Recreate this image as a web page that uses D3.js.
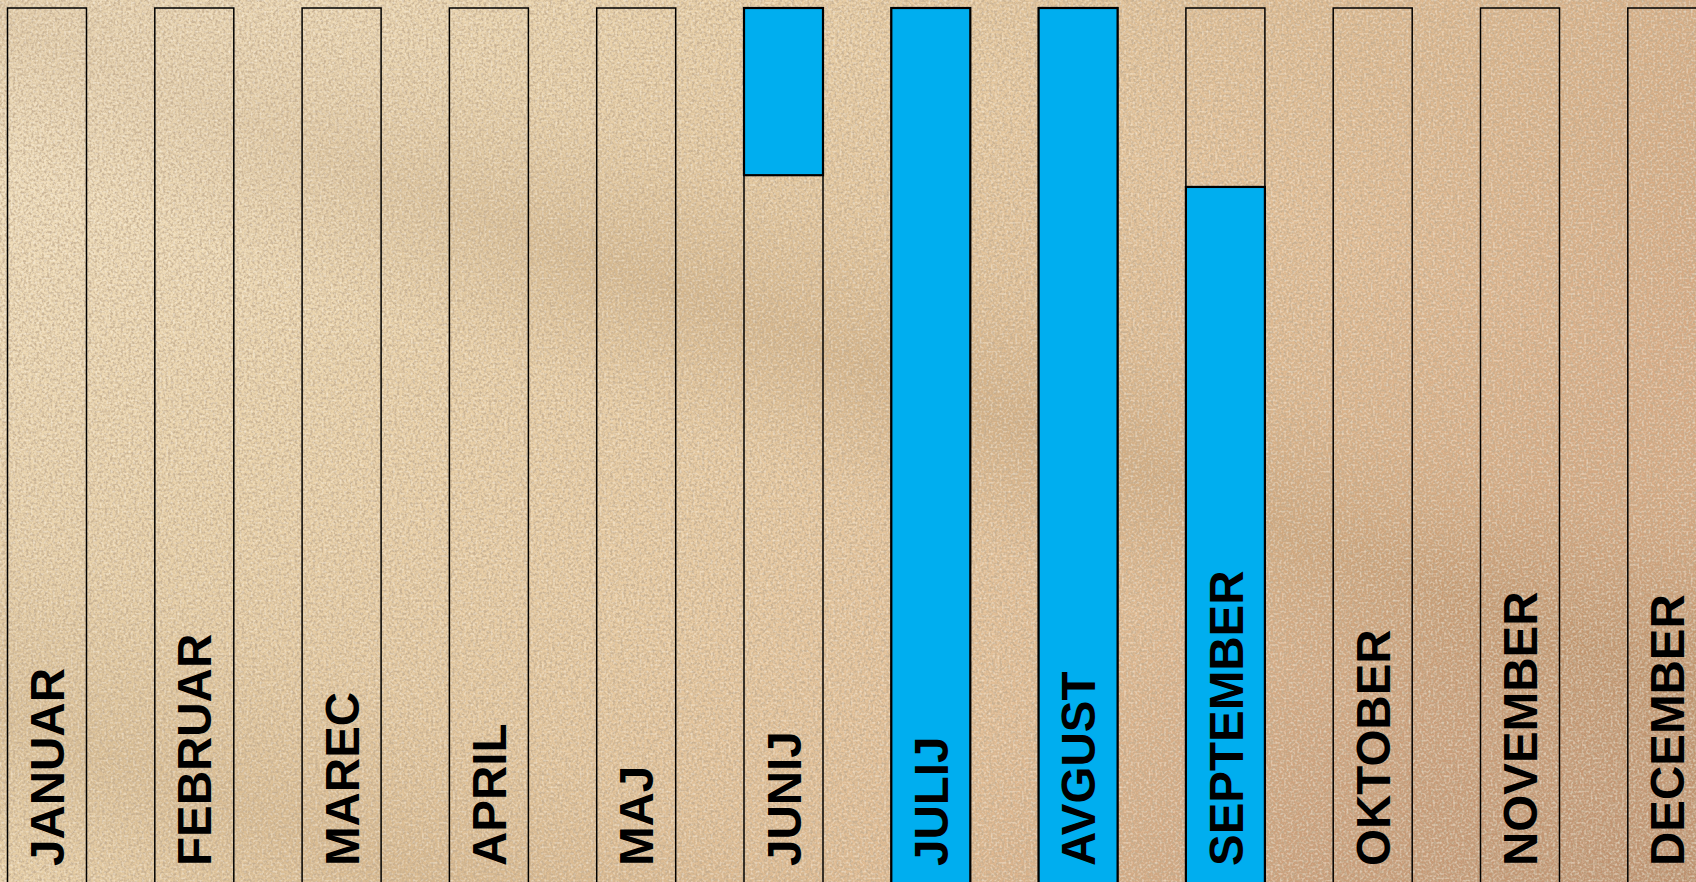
<!DOCTYPE html>
<html>
<head>
<meta charset="utf-8">
<script src="https://cdn.jsdelivr.net/npm/d3@7"></script>
<style>
html, body { margin: 0; padding: 0; overflow: hidden; background: #e4c9a2; }
svg { display: block; }
</style>
</head>
<body>
<script>
// Month categories
const months = ["JANUAR", "FEBRUAR", "MAREC", "APRIL", "MAJ", "JUNIJ", "JULIJ", "AVGUST", "SEPTEMBER", "OKTOBER", "NOVEMBER", "DECEMBER"];
// Filled (season) part of each month, in days from month start (0 = start, 30 = end); equal values = empty
const fillStart = [0, 0, 0, 0, 0, 24.3, 0, 0, 0, 0, 0, 0];
const fillEnd   = [0, 0, 0, 0, 0, 30,   30, 30, 23.9, 0, 0, 0];
const dayDomain = [0, 30];

const W = 1696, H = 882;
const svg = d3.select("body").append("svg").attr("width", W).attr("height", H);
const defs = svg.append("defs");

// ---- sand background ----
const base = defs.append("linearGradient").attr("id", "base").attr("x1", 0).attr("y1", 0).attr("x2", 1).attr("y2", 0.35);
[[0, "#eedbb8"], [0.3, "#e9d2aa"], [0.55, "#e6c9a0"], [0.8, "#e0bb93"], [1, "#d6aa84"]]
  .forEach(([o, c]) => base.append("stop").attr("offset", o).attr("stop-color", c));

const band = defs.append("linearGradient").attr("id", "band").attr("x1", 0).attr("y1", 1).attr("x2", 0.75).attr("y2", 0);
[[0, 0.0], [0.12, 0.22], [0.25, 0.05], [0.38, 0.0], [0.52, 0.0], [0.62, 0.25], [0.72, 0.06], [0.85, 0.0], [1, 0.1]]
  .forEach(([o, a]) => band.append("stop").attr("offset", o).attr("stop-color", "#a0784a").attr("stop-opacity", a));

const corner = defs.append("radialGradient").attr("id", "corner").attr("cx", 1).attr("cy", 1).attr("r", 0.45);
corner.append("stop").attr("offset", 0).attr("stop-color", "#8a5f45").attr("stop-opacity", 0.35);
corner.append("stop").attr("offset", 1).attr("stop-color", "#8a5f45").attr("stop-opacity", 0);

const light = defs.append("radialGradient").attr("id", "light").attr("cx", 0.08).attr("cy", 0.1).attr("r", 0.35);
light.append("stop").attr("offset", 0).attr("stop-color", "#f5e6c8").attr("stop-opacity", 0.45);
light.append("stop").attr("offset", 1).attr("stop-color", "#f5e6c8").attr("stop-opacity", 0);

const noise = defs.append("filter").attr("id", "noise").attr("x", 0).attr("y", 0).attr("width", 1).attr("height", 1);
noise.append("feTurbulence").attr("type", "fractalNoise").attr("baseFrequency", 0.38).attr("numOctaves", 2).attr("seed", 3).attr("result", "t");
noise.append("feColorMatrix").attr("in", "t").attr("type", "matrix")
  .attr("values", "0 0 0 0 0.55  0 0 0 0 0.42  0 0 0 0 0.28  3.0 0 0 0 -1.2");

const noise2 = defs.append("filter").attr("id", "noise2").attr("x", 0).attr("y", 0).attr("width", 1).attr("height", 1);
noise2.append("feTurbulence").attr("type", "fractalNoise").attr("baseFrequency", 0.45).attr("numOctaves", 1).attr("seed", 11).attr("result", "t");
noise2.append("feColorMatrix").attr("in", "t").attr("type", "matrix")
  .attr("values", "0 0 0 0 1  0 0 0 0 0.95  0 0 0 0 0.85  2.6 0 0 0 -1.2");

const bg = svg.append("g");
bg.append("rect").attr("width", W).attr("height", H).attr("fill", "url(#base)");
bg.append("rect").attr("width", W).attr("height", H).attr("fill", "url(#band)");
bg.append("rect").attr("width", W).attr("height", H).attr("fill", "url(#corner)");
bg.append("rect").attr("width", W).attr("height", H).attr("fill", "url(#light)");
bg.append("rect").attr("width", W).attr("height", H).attr("filter", "url(#noise)").attr("opacity", 0.85);
bg.append("rect").attr("width", W).attr("height", H).attr("filter", "url(#noise2)").attr("opacity", 0.55);

// ---- scales ----
const x = d3.scaleBand().domain(months).range([7.5, 1706.8]).paddingInner(0.4637).paddingOuter(0);
const y = d3.scaleLinear().domain(dayDomain).range([888, 8]);

const data = months.map((m, i) => ({ m, s: fillStart[i], e: fillEnd[i] }));

const g = svg.append("g");
// outline columns
g.selectAll("rect.col").data(data).join("rect")
  .attr("class", "col")
  .attr("x", d => x(d.m))
  .attr("y", y(dayDomain[1]))
  .attr("width", x.bandwidth())
  .attr("height", y(dayDomain[0]) - y(dayDomain[1]))
  .attr("fill", "none")
  .attr("stroke", "#000")
  .attr("stroke-width", 1.5);

// filled season parts
g.selectAll("rect.fill").data(data.filter(d => d.e > d.s)).join("rect")
  .attr("class", "fill")
  .attr("x", d => x(d.m))
  .attr("y", d => y(d.e))
  .attr("width", x.bandwidth())
  .attr("height", d => y(d.s) - y(d.e))
  .attr("fill", "#00aeef")
  .attr("stroke", "#000")
  .attr("stroke-width", 2.2);

// month labels
g.selectAll("text.lab").data(data).join("text")
  .attr("class", "lab")
  .attr("transform", d => `translate(${x(d.m) + x.bandwidth() / 2},866) rotate(-90)`)
  .attr("dy", "0.36em")
  .attr("text-anchor", "start")
  .attr("font-family", "'Liberation Sans', Arial, sans-serif")
  .attr("font-weight", "bold")
  .attr("font-size", 47.5)
  .attr("fill", "#000")
  .text(d => d.m);
</script>
</body>
</html>
